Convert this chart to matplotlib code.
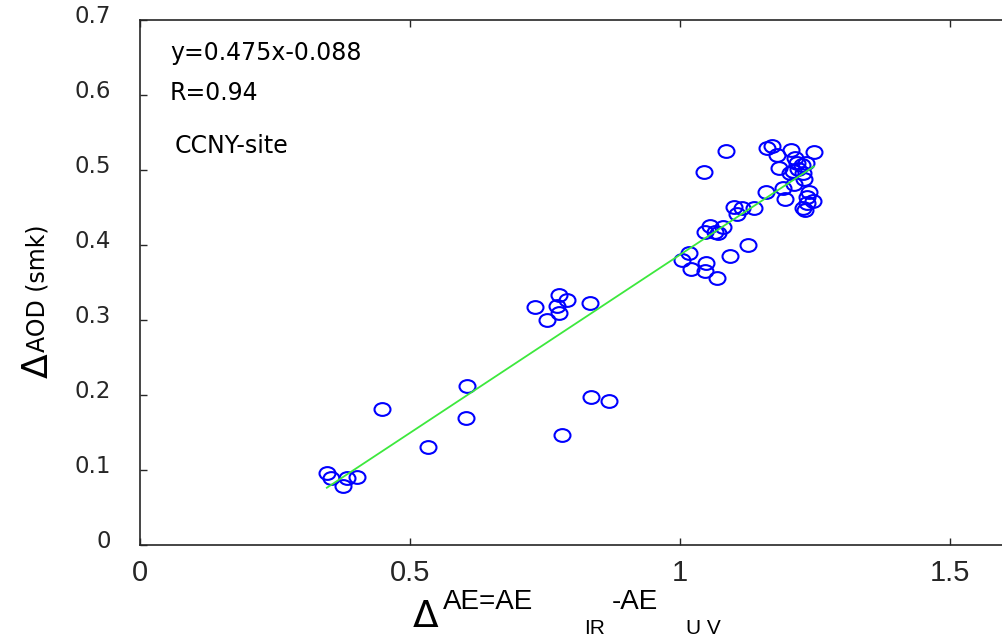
import matplotlib
matplotlib.use("Agg")
import matplotlib.pyplot as plt
import numpy as np
from matplotlib.path import Path
from matplotlib.transforms import Affine2D, ScaledTranslation

# dAE (IR - UV) vs dAOD (smoke), CCNY site
d_ae = [
    0.346, 0.353, 0.375, 0.384, 0.401, 0.449, 0.534, 0.603, 0.605, 0.782, 0.836, 0.868,
    0.731, 0.775, 0.790, 0.772, 0.775, 0.754, 0.833,
    1.100, 1.114, 1.137, 1.106, 1.056, 1.080, 1.046, 1.065, 1.071, 1.126, 1.093,
    1.017, 1.004, 1.020, 1.048, 1.046, 1.068,
    1.085, 1.044, 1.161, 1.171, 1.180, 1.205, 1.248, 1.184, 1.213, 1.216, 1.225,
    1.233, 1.219, 1.210, 1.203, 1.228, 1.230, 1.211, 1.191, 1.159, 1.238, 1.235,
    1.246, 1.194, 1.235, 1.228, 1.231,
]
d_aod = [
    0.096, 0.090, 0.079, 0.090, 0.091, 0.182, 0.131, 0.169, 0.212, 0.147, 0.197, 0.192,
    0.318, 0.334, 0.327, 0.319, 0.309, 0.300, 0.323,
    0.451, 0.450, 0.449, 0.441, 0.425, 0.424, 0.418, 0.418, 0.416, 0.400, 0.385,
    0.390, 0.380, 0.368, 0.376, 0.366, 0.356,
    0.526, 0.497, 0.529, 0.532, 0.520, 0.527, 0.524, 0.503, 0.516, 0.510, 0.507,
    0.509, 0.501, 0.499, 0.496, 0.496, 0.488, 0.482, 0.476, 0.471, 0.471, 0.464,
    0.459, 0.461, 0.456, 0.450, 0.447,
]
slope, intercept = 0.475, -0.088
r_value = 0.94
site = "CCNY-site"

x_ticks = [0, 0.5, 1, 1.5]
x_tick_labels = ["0", "0.5", "1", "1.5"]
y_ticks = [0, 0.1, 0.2, 0.3, 0.4, 0.5, 0.6, 0.7]
y_tick_labels = ["0", "0.1", "0.2", "0.3", "0.4", "0.5", "0.6", "0.7"]

narrow = ["Liberation Sans Narrow", "Liberation Sans", "DejaVu Sans"]
wide = ["DejaVu Sans"]

fig = plt.figure(figsize=(10.03, 6.4), dpi=100)
# right spine sits just past the picture edge, as in the original
ax = fig.add_axes([140 / 1003, 95 / 640, 870 / 1003, 525 / 640])

# slightly flattened open circles like the original
ell = Path.unit_circle().transformed(Affine2D().scale(1.0, 0.8))
ax.plot(d_ae, d_aod, linestyle="none", marker=ell, markersize=11.5,
        markerfacecolor="none", markeredgecolor="#0000ff", markeredgewidth=1.5)

fx = np.array([min(d_ae), max(d_ae)])
ax.plot(fx, slope * fx + intercept, color="#3de83d", linewidth=1.3, zorder=3)

ax.set_xlim(0, 870 / 540)
ax.set_ylim(0, 0.7)
ax.set_xticks(x_ticks)
ax.set_xticklabels(x_tick_labels, family=narrow, fontsize=21, color="#262626")
ax.set_yticks(y_ticks)
ax.set_yticklabels(y_tick_labels, family=wide, fontsize=16.5, color="#262626")
ax.tick_params(direction="in", length=5, width=1.0, color="#262626",
               top=True, right=True)
ax.tick_params(axis="x", pad=10)
ax.tick_params(axis="y", pad=21)
for lab in ax.get_yticklabels():
    lab.set_transform(lab.get_transform() + ScaledTranslation(0, 4 / 72, fig.dpi_scale_trans))
for sp in ax.spines.values():
    sp.set_color("#262626")
    sp.set_linewidth(1.2)
ax.spines["right"].set_visible(False)

# fit info
ax.text(170 / 1003, 1 - 53 / 640, f"y={slope}x{intercept}", transform=fig.transFigure,
        family=wide, fontsize=17, va="center", ha="left")
ax.text(170 / 1003, 1 - 93 / 640, f"R={r_value}", transform=fig.transFigure,
        family=wide, fontsize=17, va="center", ha="left")
ax.text(175 / 1003, 1 - 146 / 640, site, transform=fig.transFigure,
        family=wide, fontsize=17, va="center", ha="left")

# y label: big delta then text
fig.text(38 / 1003, 1 - 366 / 640, "\u0394", rotation=90, family=wide, fontsize=26,
         va="center", ha="center")
fig.text(38 / 1003, 1 - 288 / 640, "AOD (smk)", rotation=90, family=wide, fontsize=17,
         va="center", ha="center")

# x label: delta, AE=AE, subscripts placed like the original
fig.text(426 / 1003, 1 - 617 / 640, "\u0394", family=wide, fontsize=27,
         va="center", ha="center")
fig.text(443 / 1003, 1 - 602 / 640, "AE=AE", family=narrow, fontsize=20,
         va="center", ha="left")
fig.text(584 / 1003, 1 - 628 / 640, "IR", family=narrow, fontsize=15,
         va="center", ha="left")
fig.text(612 / 1003, 1 - 602 / 640, "-AE", family=narrow, fontsize=20,
         va="center", ha="left")
fig.text(686 / 1003, 1 - 628 / 640, "U V", family=narrow, fontsize=15,
         va="center", ha="left")

fig.savefig("out.png", dpi=100, facecolor="white")
